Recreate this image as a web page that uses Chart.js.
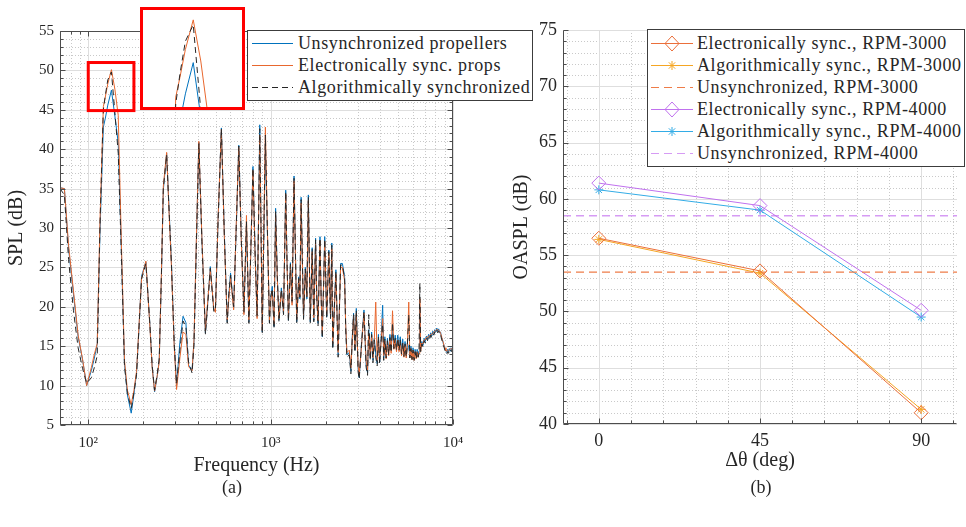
<!DOCTYPE html>
<html><head><meta charset="utf-8">
<script src="https://cdn.jsdelivr.net/npm/chart.js@4/dist/chart.umd.min.js"></script>
<style>
html,body{margin:0;padding:0;background:#fff;}
#wrap{position:relative;width:966px;height:527px;overflow:hidden;font-family:"Liberation Serif","DejaVu Serif","Noto Serif",serif;color:#262626;background:#fff;}
#wrap canvas{position:absolute;}
.legend{position:absolute;box-sizing:border-box;border:1px solid #3c3c3c;background:#fff;}
.row{position:absolute;left:0;height:22px;width:100%;}
.row svg{position:absolute;top:0;left:0;}
.row span{position:absolute;top:0;line-height:22px;font-size:18px;letter-spacing:0.6px;white-space:nowrap;}
.cap{position:absolute;font-size:18px;transform:translate(-50%,-50%);}
#inset{position:absolute;left:140px;top:7px;width:99px;height:97px;border:3px solid #ff0000;background:#fff;}
#inset canvas{left:0;top:0;}
</style></head>
<body><div id="wrap">
<canvas id="c1" width="545" height="500" style="left:0;top:0"></canvas>
<canvas id="c2" width="476" height="500" style="left:490px;top:0"></canvas>
<div id="inset"><canvas id="c3" width="99" height="97"></canvas></div>
<div id="leg1" class="legend" style="left:247px;top:30px;width:286px;height:71px"></div>
<div id="leg2" class="legend" style="left:647px;top:29px;width:318px;height:138px"></div>
<div class="cap" style="left:232px;top:487px">(a)</div>
<div class="cap" style="left:761px;top:487px">(b)</div>
</div>
<script>
// ---------------- Panel (a): spectrum ----------------
const FREQ_HZ = [
  70, 74, 78, 83, 88, 93, 98, 104, 108, 112,
  116, 121, 124, 128, 134, 140, 146, 152, 158, 164,
  172, 178, 184, 190, 196, 207, 218, 224, 231, 239,
  245, 252, 258, 269, 278, 286, 296, 305, 318, 331,
  343, 355, 371, 380, 392, 404, 420, 439, 452, 467,
  488, 498, 515, 537, 558, 578, 590, 603, 627, 648,
  669, 690, 714, 737, 760, 780, 800, 822, 843, 858,
  872, 886, 900, 918, 936, 960, 985, 1000, 1021, 1044,
  1065, 1088, 1111, 1145, 1177, 1210, 1230, 1252, 1284, 1311,
  1344, 1368, 1390, 1425, 1447, 1470, 1515, 1550, 1580, 1610,
  1650, 1690, 1725, 1764, 1790, 1820, 1865, 1890, 1920, 1980,
  2030, 2085, 2130, 2165, 2190, 2235, 2280, 2345, 2420, 2475,
  2545, 2580, 2620, 2700, 2755, 2800, 2850, 2900, 2950, 3020,
  3060, 3150, 3250, 3340, 3400, 3450, 3520, 3580, 3640, 3700,
  3770, 3840, 3900, 3960, 4030, 4115, 4170, 4230, 4300, 4370,
  4440, 4510, 4580, 4660, 4740, 4820, 4900, 4980, 5060, 5140,
  5220, 5300, 5380, 5460, 5540, 5620, 5720, 5800, 5880, 5960,
  6040, 6120, 6200, 6280, 6360, 6440, 6510, 6580, 6650, 6750,
  6850, 6950, 7050, 7150, 7250, 7350, 7450, 7550, 7650, 7750,
  7850, 7950, 8050, 8150, 8250, 8350, 8450, 8550, 8650, 8750,
  8850, 8950, 9050, 9150, 9250, 9350, 9450, 9550, 9650, 9750,
  9850, 10000
];
const SPL_UNSYNC = [
  35.1, 35.0, 27.4, 21.6, 16.2, 13.3, 10.0, 11.9, 13.5, 15.3,
  29.5, 42.8, 43.9, 45.6, 47.5, 44.2, 40.8, 27.0, 12.8, 8.8,
  6.5, 8.9, 11.6, 17.5, 23.9, 25.7, 17.5, 12.5, 9.2, 11.2,
  13.2, 24.0, 34.8, 39.5, 32.0, 25.5, 15.5, 10.0, 15.5, 18.8,
  18.0, 12.6, 12.0, 15.5, 28.5, 40.9, 28.5, 16.7, 20.5, 25.1,
  19.6, 19.4, 31.0, 42.7, 29.0, 18.1, 21.5, 24.3, 19.8, 30.0,
  40.5, 29.0, 19.2, 30.5, 18.1, 28.0, 37.8, 27.0, 18.7, 31.0,
  43.1, 29.5, 16.8, 29.0, 40.8, 29.5, 18.1, 21.0, 22.6, 17.5,
  32.5, 24.0, 18.3, 22.4, 19.2, 34.8, 26.0, 18.3, 25.6, 20.5,
  36.6, 27.0, 18.1, 23.8, 21.0, 33.9, 18.6, 25.0, 21.0, 34.2,
  18.1, 27.5, 18.3, 28.7, 21.5, 17.9, 28.9, 22.0, 16.2, 28.9,
  18.7, 27.2, 18.7, 28.1, 14.9, 20.0, 24.7, 13.9, 25.5, 25.5,
  23.8, 17.5, 13.9, 14.2, 11.8, 16.0, 19.2, 14.5, 19.8, 12.0,
  11.0, 15.4, 19.6, 12.6, 11.6, 17.1, 13.5, 16.8, 13.2, 16.0,
  14.0, 12.8, 16.5, 13.0, 15.8, 20.2, 13.5, 16.2, 13.8, 16.0,
  14.2, 16.5, 14.5, 17.0, 15.0, 16.4, 14.8, 16.4, 14.8, 16.2,
  14.3, 15.9, 14.0, 15.6, 13.9, 15.4, 14.8, 13.8, 15.0, 13.6,
  14.8, 13.5, 14.6, 13.7, 14.6, 13.9, 14.4, 20.0, 14.6, 15.6,
  15.1, 16.0, 15.6, 16.3, 15.9, 16.5, 16.1, 16.7, 16.3, 16.9,
  16.6, 17.1, 16.8, 17.3, 16.9, 17.2, 16.7, 16.8, 16.1, 15.9,
  15.3, 15.1, 14.6, 14.6, 14.2, 14.6, 14.3, 14.7, 14.4, 14.8,
  14.5, 14.6
];
const SPL_ELEC = [
  35.1, 35.0, 27.8, 22.0, 16.4, 13.4, 10.0, 12.3, 14.0, 15.3,
  31.0, 45.4, 46.6, 48.3, 50.1, 47.6, 44.3, 28.0, 13.2, 9.4,
  7.6, 9.4, 11.8, 17.8, 23.6, 25.8, 17.3, 12.3, 9.3, 11.3,
  13.0, 24.5, 35.3, 39.6, 31.5, 25.0, 15.0, 9.5, 13.5, 16.8,
  16.5, 12.4, 11.9, 15.8, 29.0, 41.0, 28.8, 16.9, 20.7, 24.8,
  19.8, 19.3, 31.2, 42.5, 28.5, 18.3, 21.0, 23.8, 19.6, 30.5,
  40.2, 28.5, 19.0, 31.6, 18.3, 27.5, 37.3, 26.5, 18.5, 30.0,
  41.8, 30.0, 17.0, 30.0, 42.8, 30.0, 18.3, 20.8, 22.0, 17.8,
  31.8, 23.5, 18.5, 22.0, 19.4, 34.3, 25.5, 18.6, 25.2, 20.2,
  36.0, 26.5, 18.4, 23.5, 21.3, 33.2, 18.9, 24.6, 21.3, 33.5,
  18.4, 27.0, 18.6, 28.2, 21.2, 18.2, 28.4, 21.6, 16.6, 28.3,
  19.0, 26.8, 19.0, 27.4, 15.3, 19.6, 24.2, 14.2, 25.0, 25.0,
  23.3, 17.8, 14.2, 14.5, 12.2, 15.6, 18.8, 14.8, 19.2, 12.4,
  11.4, 15.0, 19.2, 13.0, 12.0, 16.6, 13.8, 16.4, 13.5, 15.6,
  20.6, 13.2, 16.0, 13.4, 15.4, 18.5, 13.8, 15.7, 13.4, 15.5,
  13.8, 15.9, 14.1, 19.5, 14.6, 15.8, 14.3, 15.8, 14.3, 15.6,
  13.8, 15.4, 13.6, 15.1, 13.5, 15.0, 20.6, 13.5, 14.7, 13.3,
  14.5, 13.2, 14.3, 13.4, 14.3, 13.6, 14.1, 21.0, 14.4, 15.4,
  15.3, 15.8, 15.8, 16.1, 16.1, 16.3, 16.3, 16.5, 16.5, 16.7,
  16.8, 16.9, 17.0, 17.1, 17.1, 17.0, 16.9, 16.6, 16.3, 15.7,
  15.5, 14.9, 14.8, 14.4, 14.4, 14.4, 14.5, 14.5, 14.6, 14.6,
  14.7, 14.4
];
const SPL_ALGO = [
  35.0, 34.2, 26.0, 19.5, 14.8, 12.2, 10.3, 11.0, 12.3, 13.8,
  30.5, 45.0, 46.8, 48.8, 49.8, 44.6, 39.5, 26.5, 12.5, 9.0,
  7.1, 9.1, 11.4, 17.6, 23.5, 25.5, 17.6, 12.7, 9.4, 11.5,
  13.4, 24.3, 35.0, 39.3, 31.8, 25.3, 15.3, 10.2, 14.5, 18.2,
  17.5, 12.9, 11.6, 15.2, 28.2, 40.7, 28.3, 16.5, 20.3, 24.9,
  19.4, 19.6, 30.8, 42.6, 28.8, 17.9, 21.7, 24.0, 20.0, 30.2,
  40.4, 28.7, 19.4, 30.8, 17.9, 27.8, 37.6, 26.8, 18.9, 30.5,
  42.6, 29.8, 16.6, 29.5, 41.8, 29.8, 17.9, 21.2, 22.3, 17.2,
  32.1, 23.8, 18.1, 22.2, 19.0, 34.6, 25.8, 18.1, 25.4, 20.7,
  36.3, 26.8, 17.9, 23.6, 21.2, 33.6, 18.4, 24.8, 21.2, 33.9,
  17.9, 27.3, 18.1, 28.5, 21.4, 17.6, 28.7, 21.8, 16.0, 28.6,
  18.5, 27.0, 18.5, 27.8, 14.6, 19.8, 24.5, 13.6, 25.3, 25.3,
  23.6, 17.2, 13.6, 13.9, 11.5, 15.8, 19.0, 14.2, 19.5, 11.7,
  10.8, 15.2, 19.4, 12.3, 11.3, 19.0, 13.2, 16.5, 12.9, 15.8,
  13.6, 12.5, 16.2, 12.7, 15.5, 17.8, 13.2, 15.9, 13.5, 15.7,
  13.9, 16.1, 14.2, 18.0, 14.7, 16.0, 14.5, 16.0, 14.5, 15.8,
  14.0, 15.5, 13.7, 15.3, 13.6, 15.1, 19.0, 13.5, 14.7, 13.3,
  14.5, 13.2, 14.3, 13.4, 14.3, 13.6, 14.1, 23.0, 14.3, 15.3,
  14.9, 15.7, 15.4, 16.0, 15.7, 16.2, 15.9, 16.4, 16.1, 16.6,
  16.4, 16.8, 16.6, 17.0, 16.7, 16.9, 16.5, 16.5, 15.9, 15.6,
  15.1, 14.8, 14.4, 14.3, 14.0, 14.3, 14.1, 14.4, 14.2, 14.5,
  14.3, 14.5
];
const SERIES_A = ['Unsynchronized propellers', 'Electronically sync. props', 'Algorithmically synchronized'];
const FREQ_MAJOR = [100, 1000, 10000];
const FREQ_TICK_LABELS = ['10\u00B2', '10\u00B3', '10\u2074'];
const FREQ_MINOR = [70, 80, 90, 200, 300, 400, 500, 600, 700, 800, 900,
                    2000, 3000, 4000, 5000, 6000, 7000, 8000, 9000];
const ZOOM_F = [100, 178];        // zoomed window (Hz), marked in the main axes
const ZOOM_SPL = [44.9, 51.0];    // zoomed window (dB), marked in the main axes
const INSET_SPL = [44.8, 50.7];   // vertical range shown in the inset

// ---------------- Panel (b): OASPL ----------------
const DTHETA = [0, 45, 90];
const OASPL_ELEC_3000 = [56.5, 53.6, 41.0];
const OASPL_ALGO_3000 = [56.4, 53.4, 41.3];
const OASPL_UNSYNC_3000 = 53.5;
const OASPL_ELEC_4000 = [61.4, 59.4, 50.1];
const OASPL_ALGO_4000 = [60.8, 59.0, 49.5];
const OASPL_UNSYNC_4000 = 58.5;
const SERIES_B = ['Electronically sync., RPM-3000', 'Algorithmically sync., RPM-3000', 'Unsynchronized, RPM-3000',
                  'Electronically sync., RPM-4000', 'Algorithmically sync., RPM-4000', 'Unsynchronized, RPM-4000'];
const DTHETA_RANGE = [-10, 100];
const DTHETA_MAJOR = [0, 45, 90];
const DTHETA_MINOR = [-9, 9, 18, 27, 36, 54, 63, 72, 81, 99];

// ---------------- helpers ----------------
Chart.defaults.font.family = '"Liberation Serif", "DejaVu Serif", "Noto Serif", serif';
Chart.defaults.color = '#262626';
const pts = (xs, ys) => xs.map((x, i) => ({x: x, y: ys[i]}));
const range = (a, b, s) => { const r = []; for (let v = a; v <= b + 1e-9; v += s) r.push(v); return r; };

function axesPlugin(cfg) {
  const px = v => Math.round(v) + 0.5;
  return {
    id: 'matlabAxes',
    beforeDatasetsDraw(chart) {
      const {ctx, chartArea: a} = chart; const x = chart.scales.x, y = chart.scales.y;
      ctx.save(); ctx.lineWidth = 1;
      ctx.strokeStyle = '#c9c9c9'; ctx.setLineDash([1, 2]);
      ctx.beginPath();
      cfg.xMinor.forEach(v => { const p = px(x.getPixelForValue(v)); ctx.moveTo(p, a.top); ctx.lineTo(p, a.bottom); });
      cfg.yMinor.forEach(v => { const p = px(y.getPixelForValue(v)); ctx.moveTo(a.left, p); ctx.lineTo(a.right, p); });
      ctx.stroke();
      ctx.setLineDash([]); ctx.strokeStyle = '#dedede';
      ctx.beginPath();
      cfg.xMajor.forEach(v => { const p = px(x.getPixelForValue(v)); ctx.moveTo(p, a.top); ctx.lineTo(p, a.bottom); });
      cfg.yMajor.forEach(v => { const p = px(y.getPixelForValue(v)); ctx.moveTo(a.left, p); ctx.lineTo(a.right, p); });
      ctx.stroke();
      ctx.restore();
    },
    afterDatasetsDraw(chart) {
      const {ctx, chartArea: a} = chart; const x = chart.scales.x, y = chart.scales.y;
      const L = px(a.left), B = px(a.bottom - 1), R = px(a.right - 1), T = px(a.top);
      ctx.save(); ctx.lineWidth = 1; ctx.strokeStyle = '#4d4d4d';
      ctx.beginPath();
      ctx.moveTo(L, T); ctx.lineTo(L, B); ctx.lineTo(R, B);
      if (cfg.box) { ctx.lineTo(R, T); ctx.lineTo(L, T); }
      const tick = (vals, len) => {
        vals.forEach(v => {
          const p = px(x.getPixelForValue(v));
          ctx.moveTo(p, B); ctx.lineTo(p, B - len);
          if (cfg.box) { ctx.moveTo(p, T); ctx.lineTo(p, T + len); }
        });
      };
      const tickY = (vals, len) => {
        vals.forEach(v => {
          const p = px(y.getPixelForValue(v));
          ctx.moveTo(L, p); ctx.lineTo(L + len, p);
          if (cfg.box) { ctx.moveTo(R, p); ctx.lineTo(R - len, p); }
        });
      };
      tick(cfg.xMajor, 5); tick(cfg.xMinor, 3); tickY(cfg.yMajor, 5); tickY(cfg.yMinor, 3);
      ctx.stroke();
      if (cfg.zoom) {
        const x0 = x.getPixelForValue(cfg.zoom.x[0]), x1 = x.getPixelForValue(cfg.zoom.x[1]);
        const y0 = y.getPixelForValue(cfg.zoom.y[1]), y1 = y.getPixelForValue(cfg.zoom.y[0]);
        ctx.strokeStyle = '#ff0000'; ctx.lineWidth = 3;
        ctx.strokeRect(x0, y0, x1 - x0, y1 - y0);
      }
      ctx.restore();
    }
  };
}

const STYLE_A = [
  {color: '#0072BD', dash: [], order: 3},
  {color: '#E8672E', dash: [], order: 2},
  {color: '#262626', dash: [6, 4], order: 1}
];
const VALUES_A = [SPL_UNSYNC, SPL_ELEC, SPL_ALGO];
const dsA = () => VALUES_A.map((vals, i) => ({
  label: SERIES_A[i], data: pts(FREQ_HZ, vals), borderColor: STYLE_A[i].color,
  borderDash: STYLE_A[i].dash, borderWidth: 1, pointRadius: 0, order: STYLE_A[i].order, tension: 0
}));

function drawAll() {
new Chart(document.getElementById('c1'), {
  type: 'line',
  data: {datasets: dsA()},
  options: {
    responsive: false, animation: false, events: [],
    layout: {padding: {top: 31, right: 92, left: 0, bottom: 0}},
    plugins: {legend: {display: false}, tooltip: {enabled: false}},
    scales: {
      x: {
        type: 'logarithmic', min: 70, max: 10000,
        grid: {display: false, drawTicks: false}, border: {display: false},
        ticks: {font: {size: 15}, padding: 9, maxRotation: 0, autoSkip: false,
                callback: v => FREQ_TICK_LABELS[FREQ_MAJOR.indexOf(v)] || ''},
        afterBuildTicks: s => { s.ticks = FREQ_MAJOR.map(v => ({value: v})); },
        afterFit: s => { s.height = 75; },
        title: {display: true, text: 'Frequency (Hz)', font: {size: 20}, padding: {top: 0, bottom: 22}}
      },
      y: {
        min: 5, max: 55,
        grid: {display: false, drawTicks: false}, border: {display: false},
        ticks: {stepSize: 5, font: {size: 15}, padding: 6},
        afterFit: s => { s.width = 60; },
        title: {display: true, text: 'SPL (dB)', font: {size: 20}, padding: {top: 5, bottom: 0}}
      }
    }
  },
  plugins: [axesPlugin({
    xMajor: FREQ_MAJOR, xMinor: FREQ_MINOR,
    yMajor: range(5, 55, 5), yMinor: range(5, 55, 1).filter(v => v % 5 !== 0),
    box: true, zoom: {x: ZOOM_F, y: ZOOM_SPL}
  })]
});

// inset (zoom of the first peak)
new Chart(document.getElementById('c3'), {
  type: 'line',
  data: {datasets: dsA()},
  options: {
    responsive: false, animation: false, events: [],
    layout: {padding: 0},
    plugins: {legend: {display: false}, tooltip: {enabled: false}},
    scales: {
      x: {type: 'logarithmic', min: ZOOM_F[0], max: ZOOM_F[1], display: false},
      y: {min: INSET_SPL[0], max: INSET_SPL[1], display: false}
    }
  }
});

new Chart(document.getElementById('c2'), {
  type: 'line',
  data: {datasets: DATA_B.map((d, i) => ({
    label: SERIES_B[i], data: d, borderColor: STYLE_B[i].color, borderDash: STYLE_B[i].dash,
    borderWidth: STYLE_B[i].marker ? 1 : 1.3, tension: 0,
    pointStyle: STYLE_B[i].marker || 'circle', pointRadius: STYLE_B[i].r,
    pointBorderColor: STYLE_B[i].color, pointBackgroundColor: 'rgba(0,0,0,0)', pointBorderWidth: 1
  }))},
  options: {
    responsive: false, animation: false, events: [],
    layout: {padding: {top: 30, right: 9, left: 0, bottom: 0}},
    plugins: {legend: {display: false}, tooltip: {enabled: false}},
    scales: {
      x: {
        type: 'linear', min: DTHETA_RANGE[0], max: DTHETA_RANGE[1],
        grid: {display: false, drawTicks: false}, border: {display: false},
        ticks: {font: {size: 18}, padding: 6, autoSkip: false, maxRotation: 0},
        afterBuildTicks: s => { s.ticks = DTHETA_MAJOR.map(v => ({value: v})); },
        afterFit: s => { s.height = 76; },
        title: {display: true, text: '\u0394\u03B8 (deg)', font: {size: 20}, padding: {top: 0, bottom: 27}}
      },
      y: {
        min: 40, max: 75,
        grid: {display: false, drawTicks: false}, border: {display: false},
        ticks: {stepSize: 5, font: {size: 18}, padding: 6},
        afterFit: s => { s.width = 73; },
        title: {display: true, text: 'OASPL (dB)', font: {size: 20}, padding: {top: 20, bottom: 0}}
      }
    }
  },
  plugins: [axesPlugin({
    xMajor: DTHETA_MAJOR, xMinor: DTHETA_MINOR,
    yMajor: range(40, 75, 5), yMinor: range(40, 75, 1).filter(v => v % 5 !== 0),
    box: false
  })]
});
}

// ---------------- Panel (b) styles/data ----------------
const STYLE_B = [
  {color: '#EB6F3A', marker: 'rectRot', r: 7, dash: []},
  {color: '#F5A623', marker: 'star', r: 4.5, dash: []},
  {color: '#EE7C48', marker: null, r: 0, dash: [8, 5]},
  {color: '#C071EE', marker: 'rectRot', r: 7, dash: []},
  {color: '#33ACE6', marker: 'star', r: 4.5, dash: []},
  {color: '#D69BF4', marker: null, r: 0, dash: [8, 5]}
];
const flat = v => DTHETA_RANGE.map(x => ({x: x, y: v}));
const DATA_B = [pts(DTHETA, OASPL_ELEC_3000), pts(DTHETA, OASPL_ALGO_3000), flat(OASPL_UNSYNC_3000),
                pts(DTHETA, OASPL_ELEC_4000), pts(DTHETA, OASPL_ALGO_4000), flat(OASPL_UNSYNC_4000)];

// ---------------- legends ----------------
const NS = 'http://www.w3.org/2000/svg';
function marker(svg, type, cx, color) {
  if (type === 'rectRot') {
    const p = document.createElementNS(NS, 'polygon');
    p.setAttribute('points', `${cx},4 ${cx + 7},11.5 ${cx},19 ${cx - 7},11.5`);
    p.setAttribute('fill', 'none'); p.setAttribute('stroke', color); p.setAttribute('stroke-width', '1');
    svg.appendChild(p);
  } else if (type === 'star') {
    [[0, -4.5, 0, 4.5], [-4.5, 0, 4.5, 0], [-3.2, -3.2, 3.2, 3.2], [-3.2, 3.2, 3.2, -3.2]].forEach(s => {
      const l = document.createElementNS(NS, 'line');
      l.setAttribute('x1', cx + s[0]); l.setAttribute('y1', 11.5 + s[1]);
      l.setAttribute('x2', cx + s[2]); l.setAttribute('y2', 11.5 + s[3]);
      l.setAttribute('stroke', color); l.setAttribute('stroke-width', '1');
      svg.appendChild(l);
    });
  }
}
function buildLegend(id, labels, styles, g) {
  const box = document.getElementById(id);
  labels.forEach((lab, i) => {
    const row = document.createElement('div'); row.className = 'row';
    row.style.top = (g.top + i * g.step - 11) + 'px';
    const svg = document.createElementNS(NS, 'svg');
    svg.setAttribute('width', g.x2 + 8); svg.setAttribute('height', 22);
    const ln = document.createElementNS(NS, 'line');
    ln.setAttribute('x1', g.x1); ln.setAttribute('x2', g.x2); ln.setAttribute('y1', 11.5); ln.setAttribute('y2', 11.5);
    ln.setAttribute('stroke', styles[i].color); ln.setAttribute('stroke-width', '1.2');
    if (styles[i].dash.length) ln.setAttribute('stroke-dasharray', styles[i].dash.join(' '));
    svg.appendChild(ln);
    if (styles[i].marker) marker(svg, styles[i].marker, (g.x1 + g.x2) / 2, styles[i].color);
    row.appendChild(svg);
    const sp = document.createElement('span'); sp.textContent = lab; sp.style.left = g.tx + 'px';
    row.appendChild(sp);
    box.appendChild(row);
  });
}
buildLegend('leg1', SERIES_A, STYLE_A, {top: 12, step: 22, x1: 4, x2: 45, tx: 50});
buildLegend('leg2', SERIES_B, STYLE_B, {top: 13, step: 22, x1: 3, x2: 45, tx: 49});

if (document.fonts && document.fonts.load) {
  Promise.all([document.fonts.load('18px "Liberation Serif"'), document.fonts.load('18px "DejaVu Serif"')])
    .then(drawAll, drawAll);
} else { drawAll(); }
</script>
</body></html>
